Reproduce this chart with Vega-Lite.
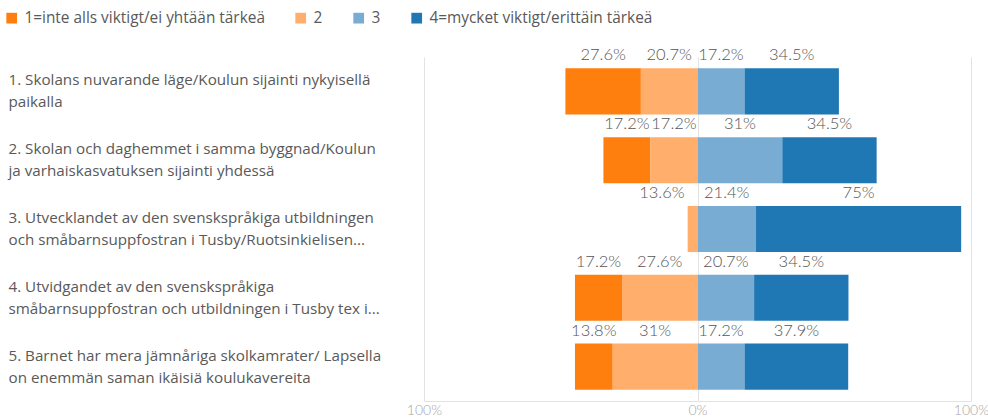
{
  "$schema": "https://vega.github.io/schema/vega-lite/v6.json",
  "width": 547,
  "height": 344,
  "autosize": "none",
  "padding": {"left": 424, "top": 57, "right": 17, "bottom": 19},
  "background": "white",
  "config": {"view": {"stroke": null}},
  "data": {
    "values": [
      {"q": "1. Skolans nuvarande läge/Koulun sijainti nykyisellä|paikalla", "cat": "1=inte alls viktigt/ei yhtään tärkeä", "ord": 2, "val": 27.6, "label": "27.6%"},
      {"q": "1. Skolans nuvarande läge/Koulun sijainti nykyisellä|paikalla", "cat": "2", "ord": 1, "val": 20.7, "label": "20.7%"},
      {"q": "1. Skolans nuvarande läge/Koulun sijainti nykyisellä|paikalla", "cat": "3", "ord": 3, "val": 17.2, "label": "17.2%"},
      {"q": "1. Skolans nuvarande läge/Koulun sijainti nykyisellä|paikalla", "cat": "4=mycket viktigt/erittäin tärkeä", "ord": 4, "val": 34.5, "label": "34.5%"},
      {"q": "2. Skolan och daghemmet i samma byggnad/Koulun|ja varhaiskasvatuksen sijainti yhdessä", "cat": "1=inte alls viktigt/ei yhtään tärkeä", "ord": 2, "val": 17.2, "label": "17.2%"},
      {"q": "2. Skolan och daghemmet i samma byggnad/Koulun|ja varhaiskasvatuksen sijainti yhdessä", "cat": "2", "ord": 1, "val": 17.2, "label": "17.2%"},
      {"q": "2. Skolan och daghemmet i samma byggnad/Koulun|ja varhaiskasvatuksen sijainti yhdessä", "cat": "3", "ord": 3, "val": 31, "label": "31%"},
      {"q": "2. Skolan och daghemmet i samma byggnad/Koulun|ja varhaiskasvatuksen sijainti yhdessä", "cat": "4=mycket viktigt/erittäin tärkeä", "ord": 4, "val": 34.5, "label": "34.5%"},
      {"q": "3. Utvecklandet av den svenskspråkiga utbildningen|och småbarnsuppfostran i Tusby/Ruotsinkielisen...", "cat": "2", "ord": 1, "val": 3.6, "label": "13.6%"},
      {"q": "3. Utvecklandet av den svenskspråkiga utbildningen|och småbarnsuppfostran i Tusby/Ruotsinkielisen...", "cat": "3", "ord": 3, "val": 21.4, "label": "21.4%"},
      {"q": "3. Utvecklandet av den svenskspråkiga utbildningen|och småbarnsuppfostran i Tusby/Ruotsinkielisen...", "cat": "4=mycket viktigt/erittäin tärkeä", "ord": 4, "val": 75, "label": "75%"},
      {"q": "4. Utvidgandet av den svenskspråkiga|småbarnsuppfostran och utbildningen i Tusby tex i...", "cat": "1=inte alls viktigt/ei yhtään tärkeä", "ord": 2, "val": 17.2, "label": "17.2%"},
      {"q": "4. Utvidgandet av den svenskspråkiga|småbarnsuppfostran och utbildningen i Tusby tex i...", "cat": "2", "ord": 1, "val": 27.6, "label": "27.6%"},
      {"q": "4. Utvidgandet av den svenskspråkiga|småbarnsuppfostran och utbildningen i Tusby tex i...", "cat": "3", "ord": 3, "val": 20.7, "label": "20.7%"},
      {"q": "4. Utvidgandet av den svenskspråkiga|småbarnsuppfostran och utbildningen i Tusby tex i...", "cat": "4=mycket viktigt/erittäin tärkeä", "ord": 4, "val": 34.5, "label": "34.5%"},
      {"q": "5. Barnet har mera jämnåriga skolkamrater/ Lapsella|on enemmän saman ikäisiä koulukavereita", "cat": "1=inte alls viktigt/ei yhtään tärkeä", "ord": 2, "val": 13.8, "label": "13.8%"},
      {"q": "5. Barnet har mera jämnåriga skolkamrater/ Lapsella|on enemmän saman ikäisiä koulukavereita", "cat": "2", "ord": 1, "val": 31, "label": "31%"},
      {"q": "5. Barnet har mera jämnåriga skolkamrater/ Lapsella|on enemmän saman ikäisiä koulukavereita", "cat": "3", "ord": 3, "val": 17.2, "label": "17.2%"},
      {"q": "5. Barnet har mera jämnåriga skolkamrater/ Lapsella|on enemmän saman ikäisiä koulukavereita", "cat": "4=mycket viktigt/erittäin tärkeä", "ord": 4, "val": 37.9, "label": "37.9%"}
    ]
  },
  "transform": [
    {"calculate": "datum.ord <= 2 ? -datum.val : datum.val", "as": "signed"},
    {"stack": "signed", "groupby": ["q"], "sort": [{"field": "ord", "order": "ascending"}], "as": ["x0", "x1"]},
    {"calculate": "(datum.x0 + datum.x1) / 2", "as": "mid"},
    {"calculate": "min(datum.x0, datum.x1)", "as": "lo"}
  ],
  "encoding": {
    "y": {
      "field": "q",
      "type": "nominal",
      "sort": null,
      "scale": {"paddingInner": 0.33, "paddingOuter": 0.165},
      "axis": {
        "title": null,
        "domain": false,
        "ticks": false,
        "labelAlign": "left",
        "labelPadding": 416,
        "labelLimit": 420,
        "labelFont": "Open Sans",
        "labelFontSize": 15.2,
        "labelColor": "#595959",
        "labelLineHeight": 22,
        "labelOffset": -11,
        "labelExpr": "split(datum.label, '|')"
      }
    }
  },
  "layer": [
    {
      "mark": {"type": "bar"},
      "encoding": {
        "x": {
          "field": "x0",
          "type": "quantitative",
          "scale": {"domain": [-100, 100], "nice": false},
          "axis": {
            "title": null,
            "values": [-100, 0, 100],
            "labelExpr": "abs(datum.value) + '%'",
            "labelFlush": false,
            "grid": true,
            "gridColor": "#e3e3e3",
            "domainColor": "#e3e3e3",
            "ticks": false,
            "labelFont": "Lato",
            "labelFontWeight": 300,
            "labelFontSize": 14,
            "labelColor": "#a6a6a6",
            "labelPadding": 2
          }
        },
        "x2": {"field": "x1"},
        "color": {
          "field": "cat",
          "type": "nominal",
          "scale": {
            "domain": ["1=inte alls viktigt/ei yhtään tärkeä", "2", "3", "4=mycket viktigt/erittäin tärkeä"],
            "range": ["#ff7f0e", "#ffae6b", "#79acd2", "#1f77b4"]
          },
          "legend": {
            "title": null,
            "orient": "none",
            "direction": "horizontal",
            "legendX": -420,
            "legendY": -47,
            "symbolType": "square",
            "symbolSize": 115,
            "symbolStrokeWidth": 0,
            "labelFont": "Open Sans",
            "labelFontSize": 15.4,
            "labelColor": "#595959",
            "labelOffset": 5,
            "columnPadding": 28,
            "labelLimit": 400
          }
        }
      }
    },
    {
      "transform": [{"filter": "datum.val >= 5"}],
      "mark": {"type": "text", "align": "center", "baseline": "alphabetic", "dy": -8, "font": "Lato", "fontWeight": 300, "fontSize": 16.5, "color": "#555555"},
      "encoding": {
        "x": {"field": "mid", "type": "quantitative"},
        "y": {"field": "q", "type": "nominal", "sort": null, "bandPosition": 0},
        "text": {"field": "label"}
      }
    },
    {
      "transform": [{"filter": "datum.val < 5"}],
      "mark": {"type": "text", "align": "right", "baseline": "alphabetic", "dy": -8, "dx": -3, "font": "Lato", "fontWeight": 300, "fontSize": 16.5, "color": "#555555"},
      "encoding": {
        "x": {"field": "lo", "type": "quantitative"},
        "y": {"field": "q", "type": "nominal", "sort": null, "bandPosition": 0},
        "text": {"field": "label"}
      }
    }
  ]
}
